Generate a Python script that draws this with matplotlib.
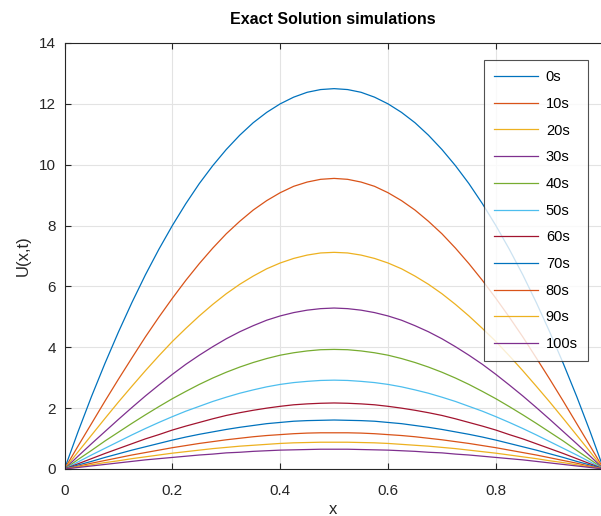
import matplotlib
matplotlib.use('Agg')
import matplotlib.pyplot as plt

plt.rcParams['font.family'] = ['Liberation Sans', 'DejaVu Sans']

# x positions (0 to 1 in steps of 0.025)
x = [0.000, 0.025, 0.050, 0.075, 0.100, 0.125, 0.150, 0.175, 0.200, 0.225,
     0.250, 0.275, 0.300, 0.325, 0.350, 0.375, 0.400, 0.425, 0.450, 0.475,
     0.500, 0.525, 0.550, 0.575, 0.600, 0.625, 0.650, 0.675, 0.700, 0.725,
     0.750, 0.775, 0.800, 0.825, 0.850, 0.875, 0.900, 0.925, 0.950, 0.975,
     1.000]

labels = ['0s', '10s', '20s', '30s', '40s', '50s', '60s', '70s', '80s', '90s', '100s']

# U(x,t), one list per time
u_0s = [0, 1.22, 2.38, 3.47, 4.50, 5.47, 6.38, 7.22, 8.00, 8.72, 9.38,
        9.97, 10.50, 10.97, 11.38, 11.72, 12.00, 12.22, 12.38, 12.47, 12.50,
        12.47, 12.38, 12.22, 12.00, 11.72, 11.38, 10.97, 10.50, 9.97, 9.38,
        8.72, 8.00, 7.22, 6.38, 5.47, 4.50, 3.47, 2.38, 1.22, 0]
u_10s = [0, 0.75, 1.49, 2.23, 2.95, 3.65, 4.34, 4.99, 5.61, 6.20, 6.75,
         7.26, 7.73, 8.14, 8.51, 8.82, 9.08, 9.29, 9.43, 9.52, 9.55,
         9.52, 9.43, 9.29, 9.08, 8.82, 8.51, 8.14, 7.73, 7.26, 6.75,
         6.20, 5.61, 4.99, 4.34, 3.65, 2.95, 2.23, 1.49, 0.75, 0]
u_20s = [0, 0.56, 1.11, 1.66, 2.20, 2.72, 3.23, 3.72, 4.19, 4.62, 5.03,
         5.41, 5.76, 6.07, 6.34, 6.58, 6.77, 6.92, 7.03, 7.10, 7.12,
         7.10, 7.03, 6.92, 6.77, 6.58, 6.34, 6.07, 5.76, 5.41, 5.03,
         4.62, 4.19, 3.72, 3.23, 2.72, 2.20, 1.66, 1.11, 0.56, 0]
u_30s = [0, 0.42, 0.83, 1.23, 1.63, 2.02, 2.40, 2.76, 3.11, 3.44, 3.74,
         4.02, 4.28, 4.51, 4.71, 4.89, 5.03, 5.14, 5.22, 5.27, 5.29,
         5.27, 5.22, 5.14, 5.03, 4.89, 4.71, 4.51, 4.28, 4.02, 3.74,
         3.44, 3.11, 2.76, 2.40, 2.02, 1.63, 1.23, 0.83, 0.42, 0]
u_40s = [0, 0.31, 0.61, 0.92, 1.21, 1.50, 1.78, 2.05, 2.31, 2.55, 2.78,
         2.99, 3.18, 3.35, 3.50, 3.63, 3.74, 3.82, 3.88, 3.92, 3.93,
         3.92, 3.88, 3.82, 3.74, 3.63, 3.50, 3.35, 3.18, 2.99, 2.78,
         2.55, 2.31, 2.05, 1.78, 1.50, 1.21, 0.92, 0.61, 0.31, 0]
u_50s = [0, 0.23, 0.46, 0.68, 0.90, 1.12, 1.33, 1.53, 1.72, 1.90, 2.06,
         2.22, 2.36, 2.49, 2.60, 2.70, 2.78, 2.84, 2.88, 2.91, 2.92,
         2.91, 2.88, 2.84, 2.78, 2.70, 2.60, 2.49, 2.36, 2.22, 2.06,
         1.90, 1.72, 1.53, 1.33, 1.12, 0.90, 0.68, 0.46, 0.23, 0]
u_60s = [0, 0.17, 0.34, 0.51, 0.67, 0.83, 0.99, 1.13, 1.28, 1.41, 1.53,
         1.65, 1.76, 1.85, 1.93, 2.00, 2.06, 2.11, 2.14, 2.16, 2.17,
         2.16, 2.14, 2.11, 2.06, 2.00, 1.93, 1.85, 1.76, 1.65, 1.53,
         1.41, 1.28, 1.13, 0.99, 0.83, 0.67, 0.51, 0.34, 0.17, 0]
u_70s = [0, 0.13, 0.25, 0.38, 0.50, 0.62, 0.73, 0.84, 0.95, 1.05, 1.14,
         1.22, 1.30, 1.37, 1.43, 1.49, 1.53, 1.57, 1.59, 1.60, 1.61,
         1.60, 1.59, 1.57, 1.53, 1.49, 1.43, 1.37, 1.30, 1.22, 1.14,
         1.05, 0.95, 0.84, 0.73, 0.62, 0.50, 0.38, 0.25, 0.13, 0]
u_80s = [0, 0.09, 0.19, 0.28, 0.37, 0.46, 0.54, 0.62, 0.70, 0.77, 0.84,
         0.90, 0.96, 1.01, 1.06, 1.10, 1.13, 1.16, 1.18, 1.19, 1.19,
         1.19, 1.18, 1.16, 1.13, 1.10, 1.06, 1.01, 0.96, 0.90, 0.84,
         0.77, 0.70, 0.62, 0.54, 0.46, 0.37, 0.28, 0.19, 0.09, 0]
u_90s = [0, 0.07, 0.14, 0.21, 0.27, 0.34, 0.40, 0.46, 0.52, 0.57, 0.62,
         0.67, 0.71, 0.75, 0.78, 0.81, 0.84, 0.86, 0.87, 0.88, 0.88,
         0.88, 0.87, 0.86, 0.84, 0.81, 0.78, 0.75, 0.71, 0.67, 0.62,
         0.57, 0.52, 0.46, 0.40, 0.34, 0.27, 0.21, 0.14, 0.07, 0]
u_100s = [0, 0.05, 0.10, 0.15, 0.20, 0.25, 0.30, 0.34, 0.38, 0.42, 0.46,
          0.49, 0.53, 0.55, 0.58, 0.60, 0.62, 0.63, 0.64, 0.65, 0.65,
          0.65, 0.64, 0.63, 0.62, 0.60, 0.58, 0.55, 0.53, 0.49, 0.46,
          0.42, 0.38, 0.34, 0.30, 0.25, 0.20, 0.15, 0.10, 0.05, 0]

series = [u_0s, u_10s, u_20s, u_30s, u_40s, u_50s, u_60s, u_70s, u_80s, u_90s, u_100s]

# matlab default colour order
colors = ['#0072BD', '#D95319', '#EDB120', '#7E2F8E', '#77AC30', '#4DBEEE', '#A2142F']

fig = plt.figure(figsize=(6.01, 5.16), dpi=100)
ax = fig.add_axes([64.5 / 601, 47 / 516, 536.5 / 601, 426 / 516])

for i, u in enumerate(series):
    ax.plot(x, u, color=colors[i % len(colors)], lw=0.9, label=labels[i])

ax.set_xlim(0, 0.995)
ax.set_ylim(0, 14)
ax.set_xticks([0, 0.2, 0.4, 0.6, 0.8])
ax.set_xticklabels(['0', '0.2', '0.4', '0.6', '0.8'])
ax.set_yticks(range(0, 15, 2))

ax.grid(True, color='#E3E3E3', lw=0.8)
ax.set_axisbelow(True)
for side in ['left', 'bottom', 'top']:
    ax.spines[side].set_color('#262626')
    ax.spines[side].set_linewidth(0.8)
ax.spines['right'].set_visible(False)
ax.tick_params(direction='in', top=True, right=False, length=4, width=0.8,
               color='#262626', labelcolor='#262626', labelsize=11)
ax.tick_params(axis='x', pad=11)
ax.tick_params(axis='y', pad=6)

ax.set_title('Exact Solution simulations', fontsize=11.5, fontweight='bold', pad=14)
ax.set_xlabel('x', fontsize=12, color='#262626', labelpad=3)
ax.set_ylabel('U(x,t)', fontsize=12, color='#262626', labelpad=6)

leg = ax.legend(loc='upper right', bbox_to_anchor=(523.5 / 536.5, (469 - 60) / 426),
                borderaxespad=0, fontsize=10.5, handlelength=3.0, labelspacing=0.87,
                frameon=True, fancybox=False, edgecolor='#262626', borderpad=0.7,
                handletextpad=0.55)
leg.get_frame().set_linewidth(0.8)

plt.savefig('out.png', dpi=100)
